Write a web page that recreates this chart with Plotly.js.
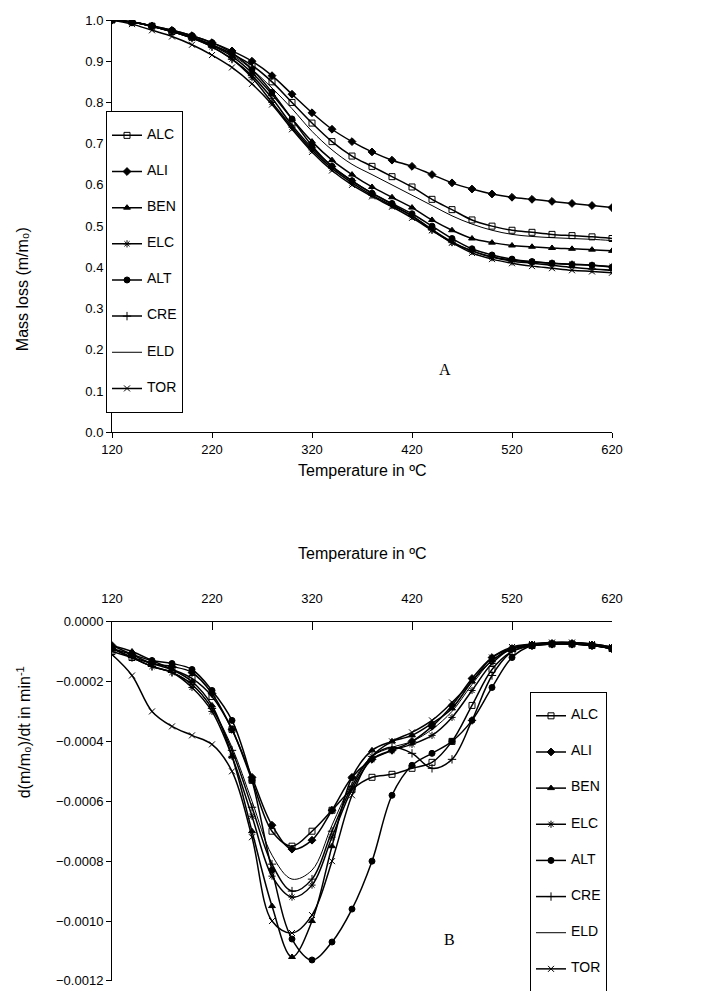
<!DOCTYPE html>
<html>
<head>
<meta charset="utf-8">
<script src="https://cdn.plot.ly/plotly-3.0.1.min.js"></script>
<style>body{margin:0;background:#fff}</style>
</head>
<body>
<div id="chart" style="width:726px;height:991px"></div>
<script>
const temps = [120,140,160,180,200,220,240,260,280,300,320,340,360,380,400,420,440,460,480,500,520,540,560,580,600,620]
const names = ['ALC','ALI','BEN','ELC','ALT','CRE','ELD','TOR']
const symbols = ['square-open','diamond','triangle-up','asterisk-open','circle','cross-thin-open','circle','x-thin-open']

// mass loss m/m0
const tgALC = [1.0,0.995,0.985,0.972,0.958,0.94,0.918,0.89,0.85,0.8,0.75,0.705,0.67,0.645,0.62,0.595,0.565,0.54,0.515,0.5,0.49,0.485,0.48,0.477,0.474,0.47]
const tgALI = [1.0,0.995,0.985,0.975,0.962,0.945,0.925,0.9,0.865,0.82,0.775,0.735,0.705,0.68,0.66,0.645,0.625,0.605,0.59,0.578,0.57,0.565,0.56,0.555,0.55,0.545]
const tgBEN = [1.0,0.995,0.985,0.972,0.957,0.938,0.912,0.872,0.82,0.76,0.705,0.66,0.625,0.595,0.57,0.545,0.515,0.49,0.47,0.46,0.453,0.45,0.447,0.445,0.443,0.44]
const tgELC = [1.0,0.995,0.985,0.972,0.956,0.935,0.905,0.86,0.8,0.74,0.685,0.64,0.605,0.575,0.55,0.525,0.49,0.46,0.44,0.425,0.418,0.413,0.41,0.408,0.405,0.402]
const tgALT = [1.0,0.995,0.986,0.975,0.962,0.945,0.92,0.88,0.825,0.76,0.695,0.645,0.61,0.58,0.555,0.53,0.5,0.47,0.445,0.43,0.42,0.414,0.41,0.407,0.405,0.4]
const tgCRE = [1.0,0.995,0.985,0.972,0.956,0.935,0.905,0.865,0.81,0.745,0.69,0.645,0.61,0.58,0.553,0.525,0.492,0.462,0.44,0.425,0.415,0.41,0.405,0.4,0.396,0.393]
const tgELD = [1.0,0.995,0.985,0.972,0.958,0.94,0.915,0.88,0.835,0.785,0.73,0.685,0.65,0.625,0.6,0.575,0.55,0.525,0.505,0.49,0.48,0.475,0.472,0.47,0.468,0.465]
const tgTOR = [1.0,0.99,0.975,0.96,0.94,0.915,0.885,0.845,0.795,0.735,0.68,0.635,0.6,0.572,0.547,0.52,0.49,0.46,0.435,0.42,0.41,0.403,0.398,0.393,0.39,0.387]

// d(m/m0)/dt, in 1e-4 per min
const dtALC = [-1.0,-1.2,-1.4,-1.6,-1.9,-2.5,-3.6,-5.3,-7.0,-7.5,-7.0,-6.3,-5.6,-5.2,-5.1,-4.9,-4.7,-4.0,-2.8,-1.6,-1.0,-0.8,-0.75,-0.75,-0.8,-0.9]
const dtALI = [-0.8,-1.1,-1.4,-1.5,-1.7,-2.4,-3.6,-5.2,-6.8,-7.6,-7.3,-6.3,-5.2,-4.6,-4.3,-4.0,-3.5,-2.8,-1.9,-1.2,-0.9,-0.8,-0.75,-0.75,-0.8,-0.9]
const dtBEN = [-0.8,-1.0,-1.3,-1.6,-2.0,-2.8,-4.5,-7.0,-9.5,-11.2,-10.0,-7.5,-5.2,-4.3,-4.0,-3.8,-3.4,-2.9,-2.0,-1.3,-0.9,-0.75,-0.7,-0.7,-0.75,-0.85]
const dtELC = [-0.9,-1.2,-1.5,-1.7,-2.2,-3.0,-4.5,-6.5,-8.5,-9.2,-8.8,-7.2,-5.6,-4.6,-4.3,-4.1,-3.8,-3.2,-2.3,-1.4,-0.9,-0.8,-0.75,-0.75,-0.8,-0.9]
const dtALT = [-0.9,-1.1,-1.3,-1.4,-1.6,-2.3,-3.3,-5.3,-8.3,-10.6,-11.3,-10.7,-9.6,-8.0,-5.8,-4.8,-4.4,-4.0,-3.3,-2.2,-1.2,-0.8,-0.75,-0.75,-0.8,-0.9]
const dtCRE = [-0.9,-1.2,-1.5,-1.7,-2.1,-2.9,-4.3,-6.2,-8.1,-9.0,-8.6,-7.0,-5.5,-4.5,-4.2,-4.4,-4.9,-4.6,-3.3,-1.8,-1.0,-0.8,-0.75,-0.75,-0.8,-0.9]
const dtELD = [-0.9,-1.2,-1.5,-1.7,-2.1,-2.9,-4.2,-6.0,-7.8,-8.6,-8.3,-6.8,-5.4,-4.5,-4.2,-4.0,-3.6,-3.0,-2.1,-1.3,-0.9,-0.8,-0.75,-0.75,-0.8,-0.9]
const dtTOR = [-1.1,-1.8,-3.0,-3.5,-3.8,-4.1,-5.0,-7.2,-10.0,-10.4,-9.8,-8.0,-5.8,-4.5,-4.0,-3.7,-3.3,-2.7,-2.0,-1.2,-0.85,-0.75,-0.7,-0.7,-0.75,-0.85]

const tg = [tgALC, tgALI, tgBEN, tgELC, tgALT, tgCRE, tgELD, tgTOR]
const dt = [dtALC, dtALI, dtBEN, dtELC, dtALT, dtCRE, dtELD, dtTOR]

// taller legend entries: blank small lines around the label
const legendName = n => '.<br><span style="font-size:14px;fill:#000;color:#000">' + n + '</span><br>.'

let traces = []
names.forEach((n, i) => {
    let isEld = n == 'ELD'
    let common = {
        mode: isEld ? 'lines' : 'lines+markers',
        line: { color: '#000', width: isEld ? 1 : 1.5, shape: 'spline' },
        marker: { symbol: symbols[i], size: 6, color: '#000', line: { color: '#000', width: 1 } },
        name: legendName(n)
    }
    traces.push(Object.assign({ x: temps, y: tg[i], xaxis: 'x', yaxis: 'y', legend: 'legend' }, common))
    traces.push(Object.assign({ x: temps, y: dt[i].map(v => v * 1e-4), xaxis: 'x2', yaxis: 'y2', legend: 'legend2' }, common))
})

const font = { family: 'Liberation Sans, Arial, sans-serif', size: 13, color: '#000' }
const legendFont = { family: font.family, size: 8.5, color: '#fff' }
const axisBase = { showgrid: false, zeroline: false, showline: true, linecolor: '#000', linewidth: 1, ticks: 'outside', ticklen: 5, tickcolor: '#000', tickfont: font }

const layout = {
    width: 726, height: 991,
    margin: { l: 112, r: 114, t: 20, b: 10, autoexpand: false },
    paper_bgcolor: '#fff', plot_bgcolor: '#fff',
    font: font,
    xaxis: Object.assign({}, axisBase, { domain: [0, 1], range: [120, 620], dtick: 100, tick0: 120, anchor: 'y' }),
    yaxis: Object.assign({}, axisBase, { domain: [0.571, 1], range: [0, 1.0], dtick: 0.1, tickformat: '.1f', anchor: 'x' }),
    xaxis2: Object.assign({}, axisBase, { domain: [0, 1], range: [120, 620], dtick: 100, tick0: 120, anchor: 'y2', side: 'top', ticks: 'inside', ticklen: 8, ticklabelstandoff: 12 }),
    yaxis2: Object.assign({}, axisBase, { domain: [0, 0.374], range: [-0.0012002, 0], tickvals: [0, -0.0002, -0.0004, -0.0006, -0.0008, -0.001, -0.0012], tickformat: '.4f', anchor: 'x2' }),
    legend: { x: -0.012, y: 0.905, xanchor: 'left', yanchor: 'top', bordercolor: '#000', borderwidth: 1, bgcolor: '#fff', font: legendFont, tracegroupgap: 0, itemwidth: 30 },
    legend2: { x: 0.836, y: 0.301, xanchor: 'left', yanchor: 'top', bordercolor: '#000', borderwidth: 1, bgcolor: '#fff', font: legendFont, tracegroupgap: 0, itemwidth: 30 },
    annotations: [
        { text: 'Temperature in ºC', xref: 'paper', yref: 'paper', x: 0.5, y: 0.531, showarrow: false, font: { family: font.family, size: 16, color: '#000' } },
        { text: 'Temperature in ºC', xref: 'paper', yref: 'paper', x: 0.5, y: 0.445, showarrow: false, font: { family: font.family, size: 16, color: '#000' } },
        { text: 'Mass loss (m/m₀)', xref: 'paper', yref: 'paper', x: -0.2, y: 0.786, textangle: -90, showarrow: false, font: { family: font.family, size: 16, color: '#000' } },
        { text: 'd(m/m₀)/dt in min<sup>-1</sup>', xref: 'paper', yref: 'paper', x: -0.2, y: 0.188, textangle: -90, showarrow: false, font: { family: font.family, size: 16, color: '#000' } },
        { text: 'A', xref: 'paper', yref: 'paper', x: 0.682, y: 0.636, showarrow: false, font: { family: 'Liberation Serif, serif', size: 16, color: '#000' } },
        { text: 'B', xref: 'paper', yref: 'paper', x: 0.69, y: 0.032, showarrow: false, font: { family: 'Liberation Serif, serif', size: 16, color: '#000' } }
    ]
}

Plotly.newPlot('chart', traces, layout, { staticPlot: true })
</script>
</body>
</html>
